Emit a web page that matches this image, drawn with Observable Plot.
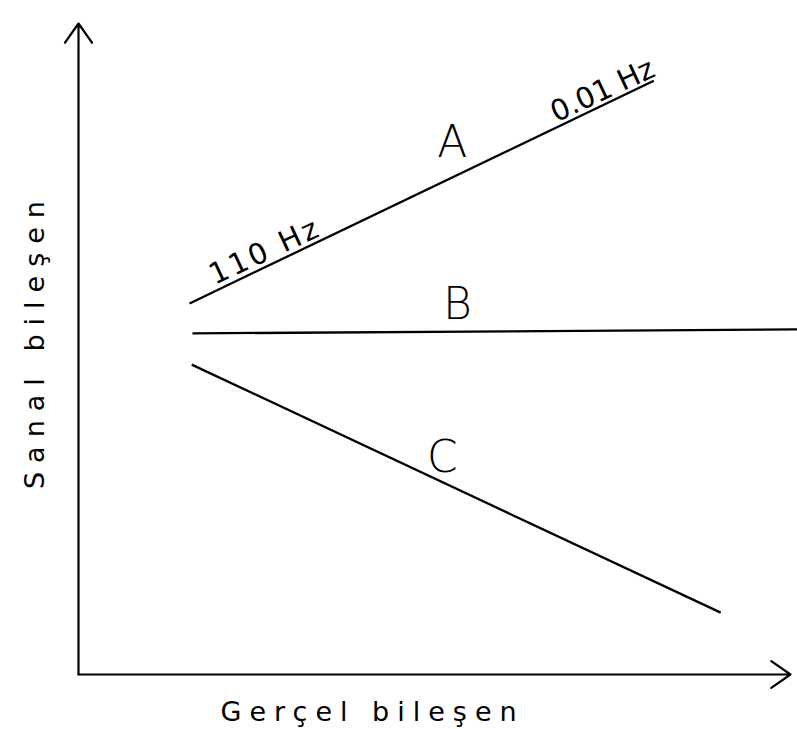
<!DOCTYPE html>
<html>
<head>
<meta charset="utf-8">
<script src="https://cdn.jsdelivr.net/npm/d3@7"></script>
<script src="https://cdn.jsdelivr.net/npm/@observablehq/plot@0.6"></script>
<style>
  html, body { margin: 0; padding: 0; background: #fff; }
  #chart svg { display: block; }
</style>
</head>
<body>
<div id="chart"></div>
<script>
// Schematic Nyquist-type sketch: real component (x) vs imaginary component (y), abstract units 0..10
const seriesNames = ["A", "B", "C"];
const lineStartX = [1.56, 1.60, 1.59];
const lineStartY = [5.70, 5.24, 4.76];
const lineEndX   = [8.08, 10.10, 9.02];
const lineEndY   = [9.12, 5.30, 0.95];

const letterX = [5.25, 5.32, 5.11];
const letterY = [8.17, 5.67, 3.32];

const freqLabels = ["110 Hz", "0.01 Hz"];
const freqX = [2.62, 7.36];
const freqY = [6.50, 8.97];

const xAxisTitle = "Gerçel bileşen";
const yAxisTitle = "Sanal bileşen";

const lines = seriesNames.map((n, i) => ({name: n, x1: lineStartX[i], y1: lineStartY[i], x2: lineEndX[i], y2: lineEndY[i]}));
const letters = seriesNames.map((n, i) => ({name: n, x: letterX[i], y: letterY[i]}));
const freqs = freqLabels.map((t, i) => ({t, x: freqX[i], y: freqY[i]}));

const font = "DejaVu Sans";

const chart = Plot.plot({
  width: 797,
  height: 729,
  marginLeft: 78,
  marginRight: 7,
  marginTop: 23,
  marginBottom: 55,
  x: {domain: [0, 10], axis: null},
  y: {domain: [0, 10], axis: null},
  style: {background: "#fff", fontFamily: font},
  marks: [
    Plot.arrow([{x1: 0, y1: 0, x2: 10, y2: 0}], {x1: "x1", y1: "y1", x2: "x2", y2: "y2", stroke: "#000", strokeWidth: 2.2, headLength: 16, headAngle: 70, clip: false}),
    Plot.arrow([{x1: 0, y1: 0, x2: 0, y2: 10}], {x1: "x1", y1: "y1", x2: "x2", y2: "y2", stroke: "#000", strokeWidth: 2.2, headLength: 16, headAngle: 70, clip: false}),
    Plot.link(lines, {x1: "x1", y1: "y1", x2: "x2", y2: "y2", stroke: "#000", strokeWidth: 2.3}),
    Plot.text(letters, {x: "x", y: "y", text: "name", fontSize: 44, fill: "#000", fontWeight: 300, textAnchor: "middle", lineAnchor: "middle"}),
    Plot.text(freqs, {x: "x", y: "y", text: "t", fontSize: 29, fill: "#000", rotate: -25, textAnchor: "middle", lineAnchor: "middle"}),
    Plot.text([xAxisTitle], {x: 4.13, y: 0, dy: 38, text: d => d, fontSize: 27, fill: "#000", textAnchor: "middle", lineAnchor: "middle"}),
    Plot.text([yAxisTitle], {x: 0, y: 5.13, dx: -43, text: d => d, fontSize: 27, fill: "#000", rotate: -90, textAnchor: "middle", lineAnchor: "middle"})
  ]
});

// letter spacing for hand-lettered look
chart.querySelectorAll("text").forEach(t => {
  const s = t.textContent;
  if (s === xAxisTitle) t.setAttribute("letter-spacing", "8");
  if (s === yAxisTitle) t.setAttribute("letter-spacing", "9");
  if (s === "110 Hz") t.setAttribute("letter-spacing", "3");
});

document.getElementById("chart").appendChild(chart);
</script>
</body>
</html>
